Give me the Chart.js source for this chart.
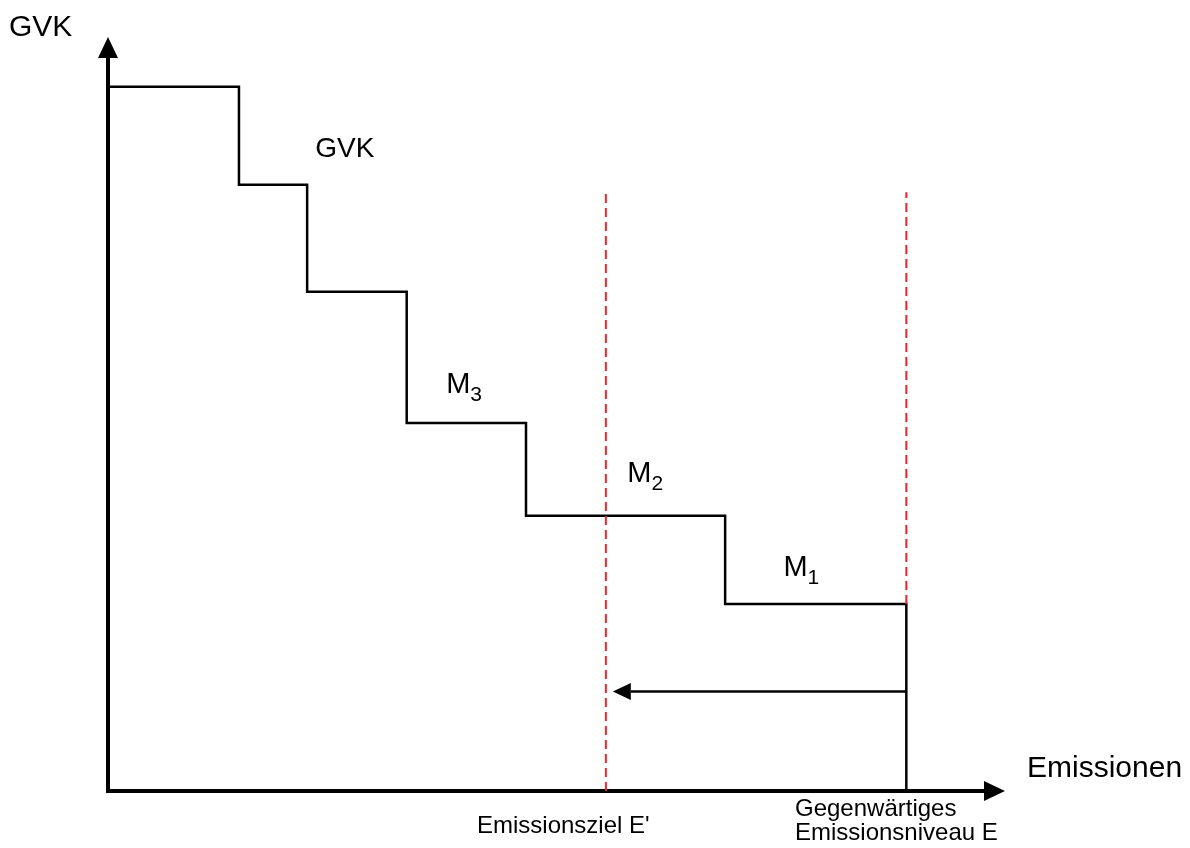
<!DOCTYPE html>
<html>
<head>
<meta charset="utf-8">
<script src="https://cdn.jsdelivr.net/npm/chart.js@4/dist/chart.umd.min.js"></script>
<style>
  html, body { margin: 0; padding: 0; background: #fff; }
  #wrap { width: 1190px; height: 848px; position: relative; }
</style>
</head>
<body>
<div id="wrap"><canvas id="gvkChart"></canvas></div>
<script>
const stepX = [0, 14.6, 22.2, 33.3, 46.6, 68.8, 89.0];
const stepY = [93.4, 80.4, 66.2, 48.8, 36.5, 24.8, 0];

// Emissionsniveaus
const emissionTarget = 55.5;   // E'
const emissionCurrent = 89.0;  // E
const dashTop = 79.4;
const arrowLevel = 13.2;

// Texte
const axisTitleY = 'GVK';
const axisTitleX = 'Emissionen';
const curveLabel = 'GVK';
const measureLabels = ['M1', 'M2', 'M3'];
const targetLabel = ["Emissionsziel E'"];
const currentLabel = ['Gegenwärtiges', 'Emissionsniveau E'];

const FONT = '"Liberation Sans", Arial, sans-serif';
const RED = '#e8262d';

function tri(ctx, pts) {
    ctx.beginPath();
    ctx.moveTo(pts[0][0], pts[0][1]);
    ctx.lineTo(pts[1][0], pts[1][1]);
    ctx.lineTo(pts[2][0], pts[2][1]);
    ctx.closePath();
    ctx.fill();
}

// Achsen mit Pfeilspitzen
const axesPlugin = {
    id: 'axesArrows',
    beforeDatasetsDraw(chart) {
        const ctx = chart.ctx;
        const xs = chart.scales.x, ys = chart.scales.y;
        const x0 = xs.getPixelForValue(0);
        const y0 = ys.getPixelForValue(0);
        const xEnd = chart.chartArea.right;
        const yEnd = chart.chartArea.top;
        ctx.save();
        ctx.strokeStyle = '#000';
        ctx.fillStyle = '#000';
        ctx.lineWidth = 4;
        ctx.beginPath();
        ctx.moveTo(x0, y0 + 2);
        ctx.lineTo(x0, yEnd + 18);
        ctx.moveTo(x0 - 2, y0);
        ctx.lineTo(xEnd - 18, y0);
        ctx.stroke();
        tri(ctx, [[x0, yEnd], [x0 - 10, yEnd + 21], [x0 + 10, yEnd + 21]]);
        tri(ctx, [[xEnd, y0], [xEnd - 21, y0 - 10], [xEnd - 21, y0 + 10]]);
        ctx.restore();
    },
    afterDatasetsDraw(chart) {
        const ctx = chart.ctx;
        const xs = chart.scales.x, ys = chart.scales.y;
        // Pfeilspitze E -> E'
        const tipX = xs.getPixelForValue(emissionTarget) + 7;
        const ay = ys.getPixelForValue(arrowLevel);
        ctx.save();
        ctx.fillStyle = '#000';
        tri(ctx, [[tipX, ay], [tipX + 18, ay - 8.5], [tipX + 18, ay + 8.5]]);

        ctx.fillStyle = '#000';
        ctx.textBaseline = 'alphabetic';
        ctx.textAlign = 'left';

        // Achsentitel
        ctx.font = '30px ' + FONT;
        ctx.fillText(axisTitleY, 9, 36);
        ctx.fillText(axisTitleX, 1027, 777);

        // Kurvenbeschriftung
        ctx.font = '28px ' + FONT;
        ctx.fillText(curveLabel, xs.getPixelForValue(23.1), ys.getPixelForValue(84.1));

        // Maßnahmen M1..M3 mit Index
        const mPos = [[75.3, 28.5], [57.9, 41.0], [37.7, 52.8]];
        measureLabels.forEach(function (lbl, i) {
            const px = xs.getPixelForValue(mPos[i][0]);
            const py = ys.getPixelForValue(mPos[i][1]);
            ctx.font = '29px ' + FONT;
            ctx.fillText(lbl[0], px, py);
            const w = ctx.measureText(lbl[0]).width;
            ctx.font = '21px ' + FONT;
            ctx.fillText(lbl.slice(1), px + w, py + 8);
        });

        // Beschriftungen unter der x-Achse
        ctx.font = '24px ' + FONT;
        targetLabel.forEach(function (t, i) { ctx.fillText(t, 477, 833 + i * 24); });
        currentLabel.forEach(function (t, i) { ctx.fillText(t, 795, 816 + i * 24); });
        ctx.restore();
    }
};

const toPts = (xArr, yArr) => xArr.map((x, i) => ({ x: x, y: yArr[i] }));

const ctx = document.getElementById('gvkChart').getContext('2d');
new Chart(ctx, {
    type: 'scatter',
    data: {
        datasets: [
            {
                label: "E'",
                data: [{ x: emissionTarget, y: 0 }, { x: emissionTarget, y: dashTop }],
                showLine: true,
                borderColor: RED,
                borderWidth: 2,
                borderDash: [9, 5],
                pointRadius: 0
            },
            {
                label: 'E',
                data: [{ x: emissionCurrent, y: stepY[5] }, { x: emissionCurrent, y: dashTop }],
                showLine: true,
                borderColor: RED,
                borderWidth: 2,
                borderDash: [9, 5],
                pointRadius: 0
            },
            {
                label: 'GVK',
                data: toPts(stepX, stepY),
                showLine: true,
                stepped: 'before',
                borderColor: '#000',
                borderWidth: 2.5,
                borderJoinStyle: 'miter',
                pointRadius: 0
            },
            {
                label: 'Reduktion',
                data: [{ x: emissionCurrent, y: arrowLevel }, { x: 58.3, y: arrowLevel }],
                showLine: true,
                borderColor: '#000',
                borderWidth: 2.5,
                pointRadius: 0
            }
        ]
    },
    options: {
        responsive: true,
        maintainAspectRatio: false,
        animation: false,
        layout: { padding: { left: 108, right: 185, top: 37, bottom: 57 } },
        scales: {
            x: { type: 'linear', min: 0, max: 100, display: false },
            y: { type: 'linear', min: 0, max: 100, display: false }
        },
        plugins: {
            legend: { display: false },
            tooltip: { enabled: false }
        }
    },
    plugins: [axesPlugin]
});
</script>
</body>
</html>
